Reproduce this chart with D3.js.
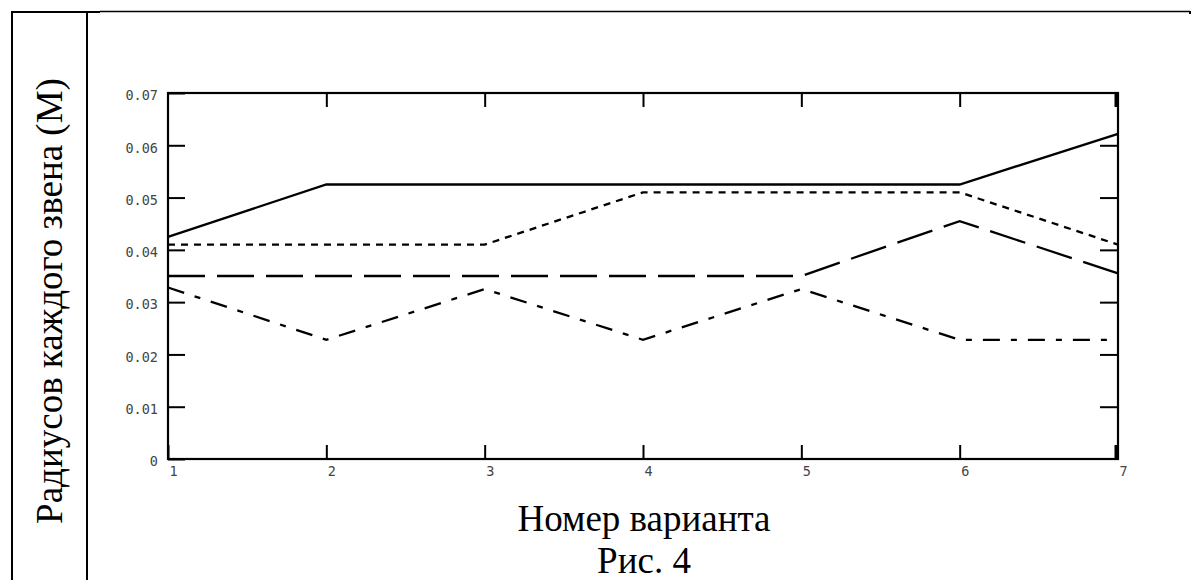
<!DOCTYPE html>
<html>
<head>
<meta charset="utf-8">
<script src="https://cdn.jsdelivr.net/npm/d3@7"></script>
<style>
  body { margin: 0; background: #fff; }
  svg { display: block; }
  .tick text { font-family: "DejaVu Sans Mono", monospace; font-size: 13.5px; fill: #444; }
  .caption { font-family: "Liberation Serif", "Times New Roman", serif; font-size: 37px; fill: #000; }
</style>
</head>
<body>
<div id="chart"></div>
<script>
const W = 1192, H = 580
const plot = ({left: 168, right: 1118, top: 93, bottom: 459})

// номер варианта
const variants = [1, 2, 3, 4, 5, 6, 7]

// радиусы звеньев, м
const r1 = [0.0425, 0.0525, 0.0525, 0.0525, 0.0525, 0.0525, 0.0622]
const r2 = [0.041, 0.041, 0.041, 0.051, 0.051, 0.051, 0.041]
const r3 = [0.035, 0.035, 0.035, 0.035, 0.035, 0.0455, 0.0355]
const r4 = [0.0328, 0.0228, 0.0325, 0.0228, 0.0325, 0.0228, 0.0228]

const yTicks = [0, 0.01, 0.02, 0.03, 0.04, 0.05, 0.06, 0.07]
const xTicks = [1, 2, 3, 4, 5, 6, 7]

const yTitle = "Радиусов каждого звена (М)"
const xTitle = "Номер варианта"
const figTitle = "Рис. 4"

const series = [
  {values: r1, dash: null},
  {values: r2, dash: "7,6"},
  {values: r3, dash: "37,12"},
  {values: r4, dash: "17,11,6,11"}
]

const svg = d3.create("svg")
    .attr("width", W)
    .attr("height", H)
    .attr("viewBox", [0, 0, W, H])

d3.select("#chart").append(() => svg.node())

svg.append("rect")
    .attr("width", W).attr("height", H)
    .attr("fill", "#fff")

// рамка таблицы
const frame = svg.append("g")
    .attr("stroke", "#000")
    .attr("fill", "none")
frame.append("line").attr("x1", 12).attr("x2", 12).attr("y1", 11).attr("y2", H).attr("stroke-width", 2)
frame.append("line").attr("x1", 87).attr("x2", 87).attr("y1", 11).attr("y2", H).attr("stroke-width", 2)
frame.append("line").attr("x1", 11).attr("x2", 100).attr("y1", 12).attr("y2", 12).attr("stroke-width", 2)
frame.append("line").attr("x1", 100).attr("x2", 1190).attr("y1", 11.5).attr("y2", 11.5).attr("stroke-width", 1.3)
frame.append("line").attr("x1", 1190).attr("x2", 1190).attr("y1", 11).attr("y2", 14).attr("stroke-width", 2)

const x = d3.scaleLinear()
    .domain([1, 7])
    .range([plot.left, plot.right])

const y = d3.scaleLinear()
    .domain([0, 0.07])
    .range([plot.bottom, plot.top])

const fmt = d => d === 0 ? "0" : d.toFixed(2)

// оси
const axisLeft = svg.append("g")
    .attr("transform", `translate(${plot.left},0)`)
    .call(d3.axisLeft(y).tickValues(yTicks).tickSize(-17).tickPadding(10).tickFormat(fmt))
axisLeft.select(".domain").remove()
axisLeft.selectAll(".tick text").attr("dy", "0.5em")
axisLeft.selectAll(".tick line").attr("stroke-width", 2)

const axisBottom = svg.append("g")
    .attr("transform", `translate(0,${plot.bottom})`)
    .call(d3.axisBottom(x).tickValues(xTicks).tickSize(-14).tickPadding(7).tickFormat(d3.format("d")))
axisBottom.select(".domain").remove()
axisBottom.selectAll(".tick text").attr("text-anchor", "start").attr("dx", 1)
axisBottom.selectAll(".tick line").attr("stroke-width", 2)
axisBottom.selectAll(".tick").filter(d => d === 7).select("line")
    .attr("stroke-width", 4).attr("transform", "translate(-2,0)")

const axisTop = svg.append("g")
    .attr("transform", `translate(0,${plot.top})`)
    .call(d3.axisTop(x).tickValues(xTicks.slice(1)).tickSize(-14).tickFormat(""))
axisTop.select(".domain").remove()
axisTop.selectAll(".tick line").attr("stroke-width", 2)
axisTop.selectAll(".tick").filter(d => d === 7).select("line")
    .attr("stroke-width", 4).attr("transform", "translate(-2,0)")

const axisRight = svg.append("g")
    .attr("transform", `translate(${plot.right},0)`)
    .call(d3.axisRight(y).tickValues(yTicks.slice(1, -1)).tickSize(-18).tickFormat(""))
axisRight.select(".domain").remove()
axisRight.selectAll(".tick line").attr("stroke-width", 2)

svg.append("rect")
    .attr("x", plot.left)
    .attr("y", plot.top)
    .attr("width", plot.right - plot.left)
    .attr("height", plot.bottom - plot.top)
    .attr("fill", "none")
    .attr("stroke", "#000")
    .attr("stroke-width", 2.2)

// линии
const line = d3.line()
    .x((d, i) => x(variants[i]))
    .y(d => y(d))

svg.append("g")
  .selectAll("path")
  .data(series)
  .join("path")
    .attr("d", d => line(d.values))
    .attr("fill", "none")
    .attr("stroke", "#000")
    .attr("stroke-width", 2.3)
    .attr("stroke-dasharray", d => d.dash)

// подписи
svg.append("text")
    .attr("class", "caption")
    .attr("transform", `translate(62,${301}) rotate(-90)`)
    .attr("text-anchor", "middle")
    .text(yTitle)

svg.append("text")
    .attr("class", "caption")
    .attr("x", 644)
    .attr("y", 531)
    .attr("text-anchor", "middle")
    .text(xTitle)

svg.append("text")
    .attr("class", "caption")
    .attr("x", 644)
    .attr("y", 573)
    .attr("text-anchor", "middle")
    .text(figTitle)
</script>
</body>
</html>
